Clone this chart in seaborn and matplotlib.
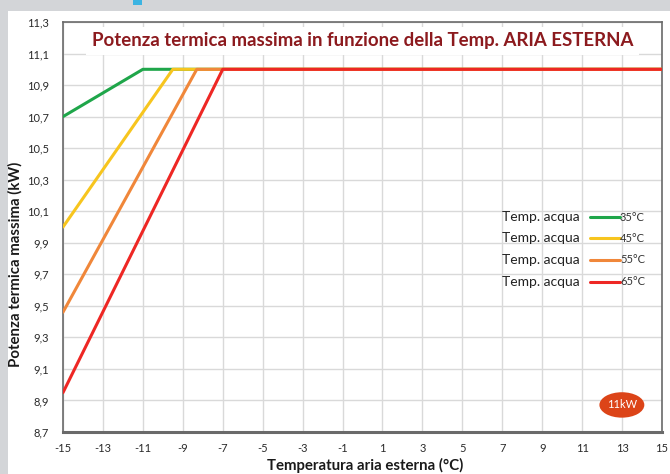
import numpy as np
import pandas as pd
import matplotlib
matplotlib.use("Agg")
import matplotlib.pyplot as plt
from matplotlib.patches import Rectangle, Ellipse
import seaborn as sns

# --- dati ---
temp_acqua = ["35°C", "45°C", "55°C", "65°C"]
colori = ["#1fa64a", "#f7c51e", "#f0873a", "#ee2724"]

x_35 = [-15, -11, 15]
y_35 = [10.7, 11.0, 11.0]
x_45 = [-15, -9.5, 15]
y_45 = [10.0, 11.0, 11.0]
x_55 = [-15, -8.3, 15]
y_55 = [9.46, 11.0, 11.0]
x_65 = [-15, -7, 15]
y_65 = [8.95, 11.0, 11.0]

x_ticks = list(range(-15, 16, 2))
y_ticks = [8.7, 8.9, 9.1, 9.3, 9.5, 9.7, 9.9, 10.1, 10.3, 10.5, 10.7, 10.9, 11.1, 11.3]

# tabella long-form per seaborn
serie = [(x_35, y_35), (x_45, y_45), (x_55, y_55), (x_65, y_65)]
righe = []
for nome, (xs, ys) in zip(temp_acqua, serie):
    for xv, yv in zip(xs, ys):
        righe.append({"T_aria": xv, "Potenza": yv, "T_acqua": nome})
df = pd.DataFrame(righe)

sns.set_style("white")
plt.rcParams["font.family"] = ["Lato", "DejaVu Sans"]

fig = plt.figure(figsize=(6.7, 4.74), dpi=100)
fig.patch.set_facecolor("#d3d5d8")
# pannello bianco + striscia azzurra in alto
fig.patches.append(Rectangle((8 / 670, 0), 1, 1 - 11 / 474, transform=fig.transFigure,
                             facecolor="white", edgecolor="none", zorder=-1))
fig.patches.append(Rectangle((133 / 670, 1 - 5 / 474), 9 / 670, 5 / 474, transform=fig.transFigure,
                             facecolor="#3cb4e2", edgecolor="none", zorder=-1))

ax = fig.add_axes([63 / 670, 42 / 474, 599 / 670, 410 / 474])
ax.set_facecolor("white")

sns.lineplot(data=df, x="T_aria", y="Potenza", hue="T_acqua", palette=colori,
             linewidth=2.2, legend=False, ax=ax, zorder=3)

ax.set_xlim(-15, 15)
ax.set_ylim(8.7, 11.3)
ax.set_xticks(x_ticks)
ax.set_xticklabels([str(v) for v in x_ticks])
ax.set_yticks(y_ticks)
ax.set_yticklabels([f"{v:.1f}".replace(".", ",") for v in y_ticks])
ax.tick_params(axis="both", labelsize=8, colors="#2a2a2a", length=0)
ax.tick_params(axis="x", pad=8)
ax.tick_params(axis="y", pad=10)
ax.grid(True, color="#d9d9d9", linewidth=1)

for lato in ["top", "right", "left"]:
    ax.spines[lato].set_color("#6a6a6a")
    ax.spines[lato].set_linewidth(1.2)
ax.spines["bottom"].set_color("#6a6a6a")
ax.spines["bottom"].set_linewidth(2.2)

ax.set_xlabel("Temperatura aria esterna (°C)", fontsize=10.8, fontweight="bold", color="#1a1a1a")
ax.set_ylabel("Potenza termica massima (kW)", fontsize=10.8, fontweight="bold", color="#1a1a1a")
ax.xaxis.set_label_coords(0.504, -0.064)
ax.yaxis.set_label_coords(-0.067, 0.41)

# titolo dentro l'area del grafico
ax.text(0.5, 0.954, "Potenza termica massima in funzione della Temp. ARIA ESTERNA",
        transform=ax.transAxes, ha="center", va="center", fontsize=13.4, fontweight="bold",
        color="#8c1a1e", zorder=5,
        bbox=dict(facecolor="white", edgecolor="none", pad=4))

# legenda costruita a mano
legenda_y = [0.524, 0.473, 0.420, 0.367]
for nome, col, yy in zip(temp_acqua, colori, legenda_y):
    ax.text(0.863, yy, "Temp. acqua", transform=ax.transAxes, ha="right", va="center",
            fontsize=10, color="#222222", zorder=5)
    ax.plot([0.880, 0.930], [yy, yy], transform=ax.transAxes, color=col, linewidth=2.2, zorder=5)
    ax.text(0.930, yy, nome, transform=ax.transAxes, ha="left", va="center",
            fontsize=8, color="#333333", zorder=5)

# bollino 11kW
ax.add_patch(Ellipse((0.933, 0.066), 0.075, 0.062, transform=ax.transAxes,
                     facecolor="#dc4418", edgecolor="none", zorder=5))
ax.text(0.933, 0.066, "11kW", transform=ax.transAxes, ha="center", va="center",
        fontsize=8, color="white", zorder=6)

fig.savefig("out.png", dpi=100, facecolor=fig.get_facecolor())
